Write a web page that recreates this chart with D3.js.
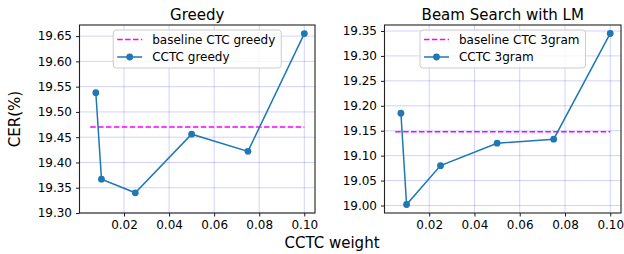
<!DOCTYPE html>
<html>
<head>
<meta charset="utf-8">
<script src="https://cdn.jsdelivr.net/npm/d3@7"></script>
<style>
  body { margin: 0; background: #fff; }
  text { font-family: "DejaVu Sans", sans-serif; }
</style>
</head>
<body>
<div id="chart"></div>
<script>
const width = 624;
const height = 254;

// CCTC weights on x
const weights = [0.0075, 0.01, 0.025, 0.05, 0.075, 0.1];
const baselineX = [0.005, 0.1];

// Greedy panel
const greedyCer = [19.538, 19.367, 19.340, 19.456, 19.422, 19.655];
const greedyBaseline = 19.47;
const greedyTicks = [19.30, 19.35, 19.40, 19.45, 19.50, 19.55, 19.60, 19.65];

// Beam search panel
const beamCer = [19.185, 19.002, 19.080, 19.125, 19.133, 19.345];
const beamBaseline = 19.148;
const beamTicks = [19.00, 19.05, 19.10, 19.15, 19.20, 19.25, 19.30, 19.35];

const xTicks = [0.02, 0.04, 0.06, 0.08, 0.10];

const panels = [
    { title: "Greedy", left: 79.5, right: 315, yDomain: [19.30, 19.672],
      values: greedyCer, base: greedyBaseline, ticks: greedyTicks,
      labels: ["baseline CTC greedy", "CCTC greedy"] },
    { title: "Beam Search with LM", left: 384.5, right: 621, yDomain: [18.985, 19.362],
      values: beamCer, base: beamBaseline, ticks: beamTicks,
      labels: ["baseline CTC 3gram", "CCTC 3gram"] }
];

const plotTop = 25, plotBottom = 213;
const blue = "#1f77b4";

const svg = d3.select("#chart")
    .append("svg")
    .attr("width", width)
    .attr("height", height);

panels.forEach(p => {
    const x = d3.scaleLinear().domain([0.00025, 0.10475]).range([p.left, p.right]);
    const y = d3.scaleLinear().domain(p.yDomain).range([plotBottom, plotTop]);
    const g = svg.append("g");

    // grid
    g.append("g")
        .selectAll("line")
        .data(xTicks)
        .join("line")
        .attr("x1", d => x(d)).attr("x2", d => x(d))
        .attr("y1", plotTop).attr("y2", plotBottom)
        .attr("stroke", "blue").attr("stroke-opacity", 0.18).attr("stroke-width", 1);
    g.append("g")
        .selectAll("line")
        .data(p.ticks)
        .join("line")
        .attr("x1", p.left).attr("x2", p.right)
        .attr("y1", d => y(d)).attr("y2", d => y(d))
        .attr("stroke", "blue").attr("stroke-opacity", 0.18).attr("stroke-width", 1);

    // axes
    const xAxis = g.append("g")
        .attr("transform", `translate(0,${plotBottom})`)
        .call(d3.axisBottom(x).tickValues(xTicks).tickFormat(d3.format(".2f")).tickSize(3.5).tickPadding(4));
    const yAxis = g.append("g")
        .attr("transform", `translate(${p.left},0)`)
        .call(d3.axisLeft(y).tickValues(p.ticks).tickFormat(d3.format(".2f")).tickSize(3.5).tickPadding(4));
    [xAxis, yAxis].forEach(a => {
        a.select(".domain").remove();
        a.selectAll("text").attr("font-size", 12).attr("fill", "#000")
            .style("font-family", "DejaVu Sans, sans-serif");
        a.selectAll("line").attr("stroke", "#000").attr("stroke-width", 0.9);
    });

    // frame
    g.append("rect")
        .attr("x", p.left).attr("y", plotTop)
        .attr("width", p.right - p.left).attr("height", plotBottom - plotTop)
        .attr("fill", "none").attr("stroke", "#222").attr("stroke-width", 1.1);

    // baseline
    g.append("path")
        .datum(baselineX)
        .attr("d", d3.line().x(d => x(d)).y(() => y(p.base)))
        .attr("fill", "none").attr("stroke", "#ff00ff")
        .attr("stroke-width", 1.5).attr("stroke-dasharray", "5.5,2.4");

    // CCTC series
    const pts = weights.map((w, i) => [w, p.values[i]]);
    g.append("path")
        .datum(pts)
        .attr("d", d3.line().x(d => x(d[0])).y(d => y(d[1])))
        .attr("fill", "none").attr("stroke", blue).attr("stroke-width", 1.5);
    g.append("g")
        .selectAll("circle")
        .data(pts)
        .join("circle")
        .attr("cx", d => x(d[0])).attr("cy", d => y(d[1]))
        .attr("r", 3.4).attr("fill", blue);

    // title
    g.append("text")
        .attr("x", (p.left + p.right) / 2).attr("y", 19.5)
        .attr("text-anchor", "middle").attr("font-size", 15)
        .text(p.title);

    // legend
    const leg = g.append("g");
    const texts = leg.selectAll("text.lab")
        .data(p.labels)
        .join("text")
        .attr("class", "lab")
        .attr("font-size", 12)
        .attr("y", (d, i) => 43.5 + i * 17.5)
        .text(d => d);
    const tw = d3.max(texts.nodes(), n => n.getComputedTextLength());
    const lw = tw + 39 + 6;
    const lx = (p.left + p.right) / 2 - lw / 2;
    texts.attr("x", lx + 39);
    leg.insert("rect", "text")
        .attr("x", lx).attr("y", 30).attr("width", lw).attr("height", 38)
        .attr("rx", 3).attr("fill", "#fff").attr("fill-opacity", 0.8)
        .attr("stroke", "#ccc").attr("stroke-width", 1);
    leg.append("line")
        .attr("x1", lx + 4).attr("x2", lx + 29).attr("y1", 39.5).attr("y2", 39.5)
        .attr("stroke", "#ff00ff").attr("stroke-width", 1.5).attr("stroke-dasharray", "5.5,2.4");
    leg.append("line")
        .attr("x1", lx + 4).attr("x2", lx + 29).attr("y1", 57).attr("y2", 57)
        .attr("stroke", blue).attr("stroke-width", 1.5);
    leg.append("circle")
        .attr("cx", lx + 16.5).attr("cy", 57).attr("r", 3.4).attr("fill", blue);
});

// shared labels
svg.append("text")
    .attr("transform", "translate(20,119) rotate(-90)")
    .attr("text-anchor", "middle").attr("font-size", 15)
    .text("CER(%)");
svg.append("text")
    .attr("x", 332).attr("y", 248)
    .attr("text-anchor", "middle").attr("font-size", 15)
    .text("CCTC weight");
</script>
</body>
</html>
